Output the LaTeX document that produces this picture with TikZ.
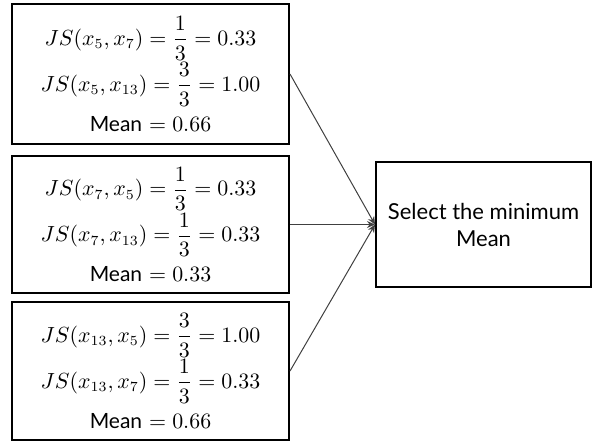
\documentclass[tikz,border=0pt]{standalone}
\usepackage{amsmath}
\usepackage{fontspec}
\setsansfont{Lato}
\usetikzlibrary{arrows.meta}
\newcommand{\jsfont}{\fontsize{10.5}{20}\selectfont\lineskiplimit=-20pt}
\begin{document}
\begin{tikzpicture}[x=0.5pt,y=-0.5pt,
	jsbox/.style={draw=black,line width=1pt,minimum width=138.5pt,inner sep=0pt,align=center,font=\jsfont},
	selbox/.style={draw=black,line width=1pt,minimum width=107.5pt,minimum height=62.5pt,inner sep=0pt,align=center,font=\sffamily\fontsize{11}{13.5}\selectfont},
	link/.style={-{Stealth[length=4pt,width=3.5pt]},draw=black!75,line width=0.5pt}]
	\useasboundingbox (0,0) rectangle (592,441);
	\node[jsbox,minimum height=70pt] (b1) at (150.5,74)
	{$JS(x_5,x_7)=\dfrac{1}{3}=0.33$\\[3pt]
		$JS(x_5,x_{13})=\dfrac{3}{3}=1.00$\\
		\textsf{Mean} $=0.66$};
	\node[jsbox,minimum height=68.5pt] (b2) at (150.5,224.5)
	{$JS(x_7,x_5)=\dfrac{1}{3}=0.33$\\[3pt]
		$JS(x_7,x_{13})=\dfrac{1}{3}=0.33$\\
		\textsf{Mean} $=0.33$};
	\node[jsbox,minimum height=69pt] (b3) at (150.5,371)
	{$JS(x_{13},x_5)=\dfrac{3}{3}=1.00$\\[3pt]
		$JS(x_{13},x_7)=\dfrac{1}{3}=0.33$\\
		\textsf{Mean} $=0.66$};
	\node[selbox] (sel) at (483.5,224.5) {Select the minimum\\Mean};
	\foreach \b in {b1,b2,b3}
	\draw[link] (\b.east) -- (sel.west);
\end{tikzpicture}
\end{document}
